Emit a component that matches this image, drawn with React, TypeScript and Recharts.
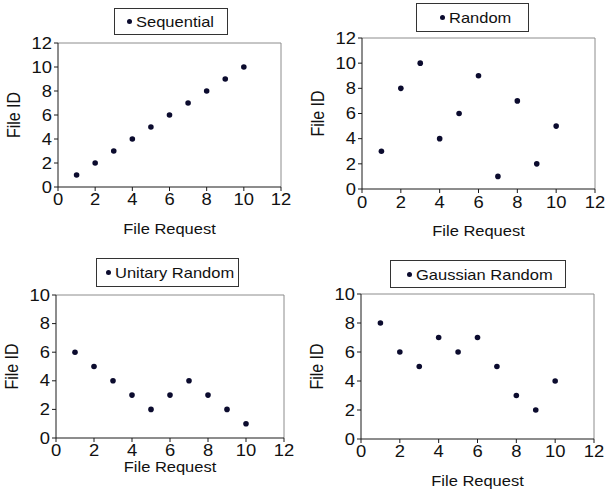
import React from 'react';
import { ScatterChart, Scatter, XAxis, YAxis, ReferenceLine, Legend, Label } from 'recharts';

// ---------- data ----------
const fileRequests = [1, 2, 3, 4, 5, 6, 7, 8, 9, 10];
const sequentialIds = [1, 2, 3, 4, 5, 6, 7, 8, 9, 10];
const randomIds = [3, 8, 10, 4, 6, 9, 1, 7, 2, 5];
const unitaryRandomIds = [6, 5, 4, 3, 2, 3, 4, 3, 2, 1];
const gaussianRandomIds = [8, 6, 5, 7, 6, 7, 5, 3, 2, 4];

const xTicks = [0, 2, 4, 6, 8, 10, 12];
const yTicksTop = [0, 2, 4, 6, 8, 10, 12];
const yTicksBottom = [0, 2, 4, 6, 8, 10];

const seriesNames = ['Sequential', 'Random', 'Unitary Random', 'Gaussian Random'];
const xTitle = 'File Request';
const yTitle = 'File ID';

const toPoints = (ids: number[]) => fileRequests.map((x, i) => ({ x, y: ids[i] }));

// ---------- style ----------
const FONT = '"Liberation Sans", Arial, Helvetica, sans-serif';
const SX = 1.1;
const SX_TICK = 1.15;
const TEXT = '#111';
const DOT = '#0b0b2e';

const XTick = (props: any) => {
  const { x, y, payload } = props;
  return (
    <g transform={`translate(${x},${y}) scale(${SX_TICK},1)`}>
      <text x={0} y={0} dy="0.71em" textAnchor="middle" fontSize={16} fontFamily={FONT} fill={TEXT}>
        {payload.value}
      </text>
    </g>
  );
};

const YTick = (props: any) => {
  const { x, y, payload } = props;
  return (
    <g transform={`translate(${x},${y}) scale(${SX_TICK},1)`}>
      <text x={0} y={0} dy="0.355em" textAnchor="end" fontSize={16} fontFamily={FONT} fill={TEXT}>
        {payload.value}
      </text>
    </g>
  );
};

const makeXTitle = (gap: number) => (props: any) => {
  const vb = props.viewBox || {};
  const cx = vb.x + vb.width / 2;
  const by = vb.y + gap;
  return (
    <g transform={`translate(${cx},${by}) scale(${SX},1)`}>
      <text x={0} y={0} textAnchor="middle" fontSize={15} fontFamily={FONT} fill={TEXT}>
        {xTitle}
      </text>
    </g>
  );
};

const makeYTitle = (dist: number) => (props: any) => {
  const vb = props.viewBox || {};
  const cx = vb.x + vb.width - dist;
  const cy = vb.y + vb.height / 2;
  return (
    <g transform={`translate(${cx},${cy}) scale(${SX},1) rotate(-90)`}>
      <text x={0} y={0} dy="0.355em" textAnchor="middle" fontSize={16} fontFamily={FONT} fill={TEXT}>
        {yTitle}
      </text>
    </g>
  );
};

const Dot = (props: any) => <circle cx={props.cx} cy={props.cy} r={2.8} fill={DOT} />;

type PanelCfg = {
  name: string;
  data: { x: number; y: number }[];
  left: number;
  top: number;
  margin: { top: number; right: number; bottom: number; left: number };
  yMax: number;
  yTicks: number[];
  xTickMargin: number;
  xTitleGap: number;
  legend: { left: number; top: number; width: number; height: number; pad: number };
};

const panels: PanelCfg[] = [
  {
    name: seriesNames[0], data: toPoints(sequentialIds), left: 0, top: 0,
    margin: { top: 43, right: 22, bottom: 10, left: 12 }, yMax: 12, yTicks: yTicksTop,
    xTickMargin: 3, xTitleGap: 47,
    legend: { left: 114, top: 8, width: 114, height: 27, pad: 12 },
  },
  {
    name: seriesNames[1], data: toPoints(randomIds), left: 303, top: 0,
    margin: { top: 38, right: 11, bottom: 8, left: 13 }, yMax: 12, yTicks: yTicksTop,
    xTickMargin: 4, xTitleGap: 47,
    legend: { left: 113, top: 3, width: 113, height: 29, pad: 23 },
  },
  {
    name: seriesNames[2], data: toPoints(unitaryRandomIds), left: 0, top: 247,
    margin: { top: 48, right: 19, bottom: 6, left: 10 }, yMax: 10, yTicks: yTicksBottom,
    xTickMargin: 3, xTitleGap: 34,
    legend: { left: 96, top: 11, width: 143, height: 29, pad: 9 },
  },
  {
    name: seriesNames[3], data: toPoints(gaussianRandomIds), left: 303, top: 247,
    margin: { top: 47, right: 12, bottom: 5, left: 12 }, yMax: 10, yTicks: yTicksBottom,
    xTickMargin: 3, xTitleGap: 47,
    legend: { left: 87, top: 13, width: 176, height: 28, pad: 16 },
  },
];

const LegendBox = ({ name, pad }: { name: string; pad: number }) => (
  <div
    style={{
      boxSizing: 'border-box', width: '100%', height: '100%', border: '1px solid #333', background: '#fff',
      display: 'flex', alignItems: 'center', paddingLeft: pad, fontFamily: FONT, fontSize: 15, color: TEXT,
    }}
  >
    <span style={{ display: 'inline-block', width: 5, height: 5, borderRadius: '50%', background: DOT, marginRight: 4 }} />
    <span style={{ display: 'inline-block', transform: `scaleX(${SX})`, transformOrigin: 'left center', whiteSpace: 'nowrap', lineHeight: 1 }}>
      {name}
    </span>
  </div>
);

const Panel = ({ cfg }: { cfg: PanelCfg }) => (
  <div style={{ position: 'absolute', left: cfg.left, top: cfg.top, width: 303, height: 247 }}>
    <ScatterChart width={303} height={247} margin={cfg.margin}>
      <XAxis
        type="number" dataKey="x" domain={[0, 12]} ticks={xTicks} interval={0} height={50}
        tickSize={4} tickMargin={cfg.xTickMargin} tick={<XTick />}
        axisLine={{ stroke: '#1a1a1a', strokeWidth: 1 }} tickLine={{ stroke: '#1a1a1a' }}
      >
        <Label content={makeXTitle(cfg.xTitleGap)} />
      </XAxis>
      <YAxis
        type="number" dataKey="y" domain={[0, cfg.yMax]} ticks={cfg.yTicks} interval={0} width={46}
        tickSize={4} tickMargin={2} tick={<YTick />}
        axisLine={{ stroke: '#1a1a1a', strokeWidth: 1 }} tickLine={{ stroke: '#1a1a1a' }}
      >
        <Label content={makeYTitle(44)} />
      </YAxis>
      <ReferenceLine y={cfg.yMax} stroke="#8c8c8c" strokeWidth={1} />
      <ReferenceLine x={12} stroke="#8c8c8c" strokeWidth={1} />
      <Legend
        layout="horizontal" verticalAlign="middle" align="center"
        wrapperStyle={{
          left: cfg.legend.left, top: cfg.legend.top, width: cfg.legend.width, height: cfg.legend.height,
        }}
        content={() => <LegendBox name={cfg.name} pad={cfg.legend.pad} />}
      />
      <Scatter name={cfg.name} data={cfg.data} fill={DOT} shape={<Dot />} isAnimationActive={false} />
    </ScatterChart>
  </div>
);

export default function App() {
  return (
    <div style={{ position: 'absolute', left: 0, top: 0, width: 606, height: 494, background: '#fff' }}>
      {panels.map((p) => (
        <Panel key={p.name} cfg={p} />
      ))}
    </div>
  );
}
